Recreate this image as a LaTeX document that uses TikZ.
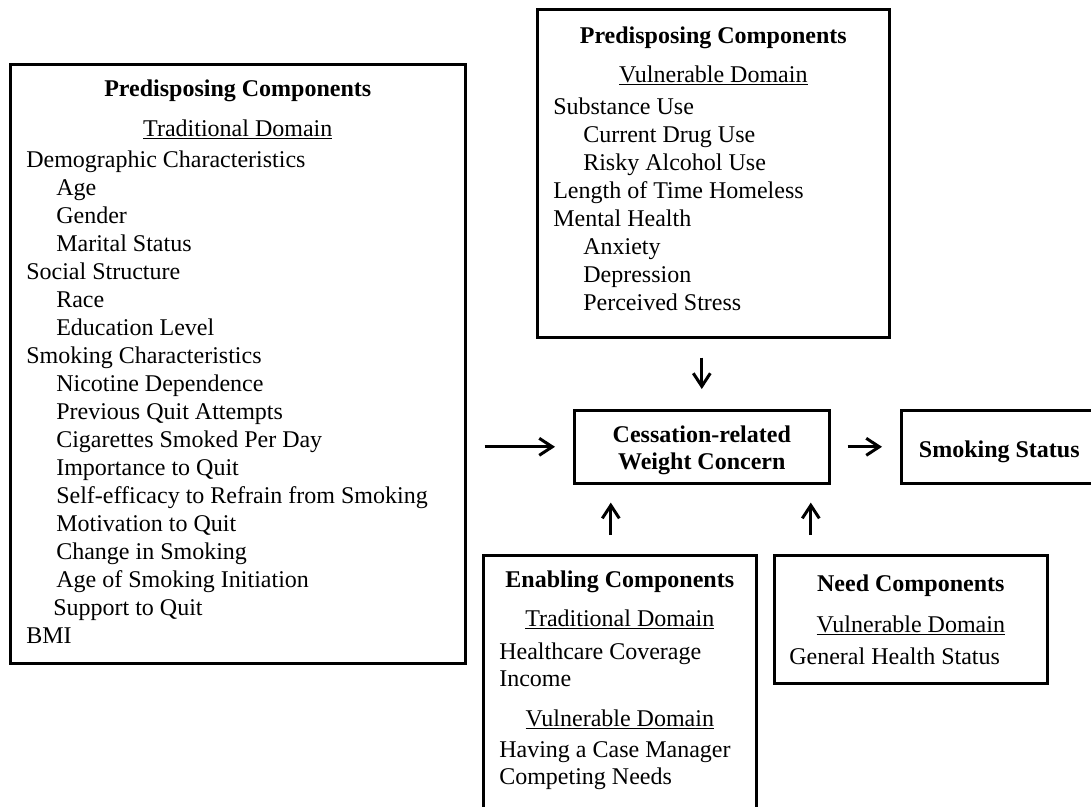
\documentclass[tikz,border=0pt]{standalone}
\usepackage{fontspec}
\setmainfont{Liberation Serif}
\usetikzlibrary{arrows.meta}

\newcommand\midln[1]{\centerline{#1}}
\newcommand\lftln[1]{\leftline{#1}}
\newcommand\indln[1]{\leftline{\hspace*{30pt}#1}}

\begin{document}
\begin{tikzpicture}[x=1pt, y=-1pt,
box/.style = {draw, line width=2.6pt, anchor=north west,
              inner xsep=16pt, inner ysep=0pt,
              font=\fontsize{24}{28}\selectfont},
arr/.style = {line width=3pt, -{Straight Barb[length=13pt, width=17pt]}},
sxe/.style = {xshift=-9pt},
sxn/.style = {xshift=-100pt}
                        ]
\useasboundingbox (0,0) rectangle (1091,806);
%
\node (trad) [box, text height=32pt, text depth=567pt] at (9,63) {\parbox[t]{423pt}{%
    \midln{\textbf{Predisposing Components}}\vspace{12pt}
    \midln{\underline{Traditional Domain}}\vspace{3pt}
    \lftln{Demographic Characteristics}
    \indln{Age}
    \indln{Gender}
    \indln{Marital Status}
    \lftln{Social Structure}
    \indln{Race}
    \indln{Education Level}
    \lftln{Smoking Characteristics}
    \indln{Nicotine Dependence}
    \indln{Previous Quit Attempts}
    \indln{Cigarettes Smoked Per Day}
    \indln{Importance to Quit}
    \indln{Self-efficacy to Refrain from Smoking}
    \indln{Motivation to Quit}
    \indln{Change in Smoking}
    \indln{Age of Smoking Initiation}
    \lftln{\hspace*{27pt}Support to Quit}
    \lftln{BMI}}};
\node (vul) [box, text height=34pt, text depth=294pt] at (536,8) {\parbox[t]{320pt}{%
    \midln{\textbf{Predisposing Components}}\vspace{11pt}
    \midln{\underline{Vulnerable Domain}}\vspace{4pt}
    \lftln{Substance Use}
    \indln{Current Drug Use}
    \indln{Risky Alcohol Use}
    \lftln{Length of Time Homeless}
    \lftln{Mental Health}
    \indln{Anxiety}
    \indln{Depression}
    \indln{Perceived Stress}}};
\node (cwc) [box, inner xsep=10pt, text height=32pt, text depth=41pt] at (573,409) {\parbox[t]{235pt}{%
    \midln{\textbf{Cessation-related}}\vspace{-1pt}
    \midln{\textbf{Weight Concern}}}};
\node (smk) [box, inner xsep=10pt, text height=47pt, text depth=26pt] at (900,409) {\parbox[t]{176pt}{%
    \midln{\textbf{Smoking Status}}}};
\node (enab) [box, text height=32pt, text depth=226pt] at (482,554) {\parbox[t]{241pt}{%
    \midln{\textbf{Enabling Components}}\vspace{11pt}
    \midln{\underline{Traditional Domain}}\vspace{5pt}
    \lftln{Healthcare Coverage}\vspace{-1pt}
    \lftln{Income}\vspace{12pt}
    \midln{\underline{Vulnerable Domain}}\vspace{3pt}
    \lftln{Having a Case Manager}\vspace{-1pt}
    \lftln{Competing Needs}}};
\node (need) [box, inner xsep=15pt, text height=36pt, text depth=92pt] at (773,554) {\parbox[t]{243pt}{%
    \midln{\textbf{Need Components}}\vspace{13pt}
    \midln{\underline{Vulnerable Domain}}\vspace{4pt}
    \lftln{General Health Status}}};
%
\draw[arr, shorten <=18pt, shorten >=18pt] (trad.east |- cwc.west) -- (cwc.west);
\draw[arr, shorten <=19pt, shorten >=20pt] (vul.south -| cwc.north) -- (cwc.north);
\draw[arr, shorten <=17pt, shorten >=18pt] (cwc.east) -- (smk.west);
\draw[arr, shorten <=19pt, shorten >=18pt] ([sxe] enab.north) -- ([sxe] enab.north |- cwc.south);
\draw[arr, shorten <=19pt, shorten >=18pt] ([sxn] need.north) -- ([sxn] need.north |- cwc.south);
\end{tikzpicture}
\end{document}
